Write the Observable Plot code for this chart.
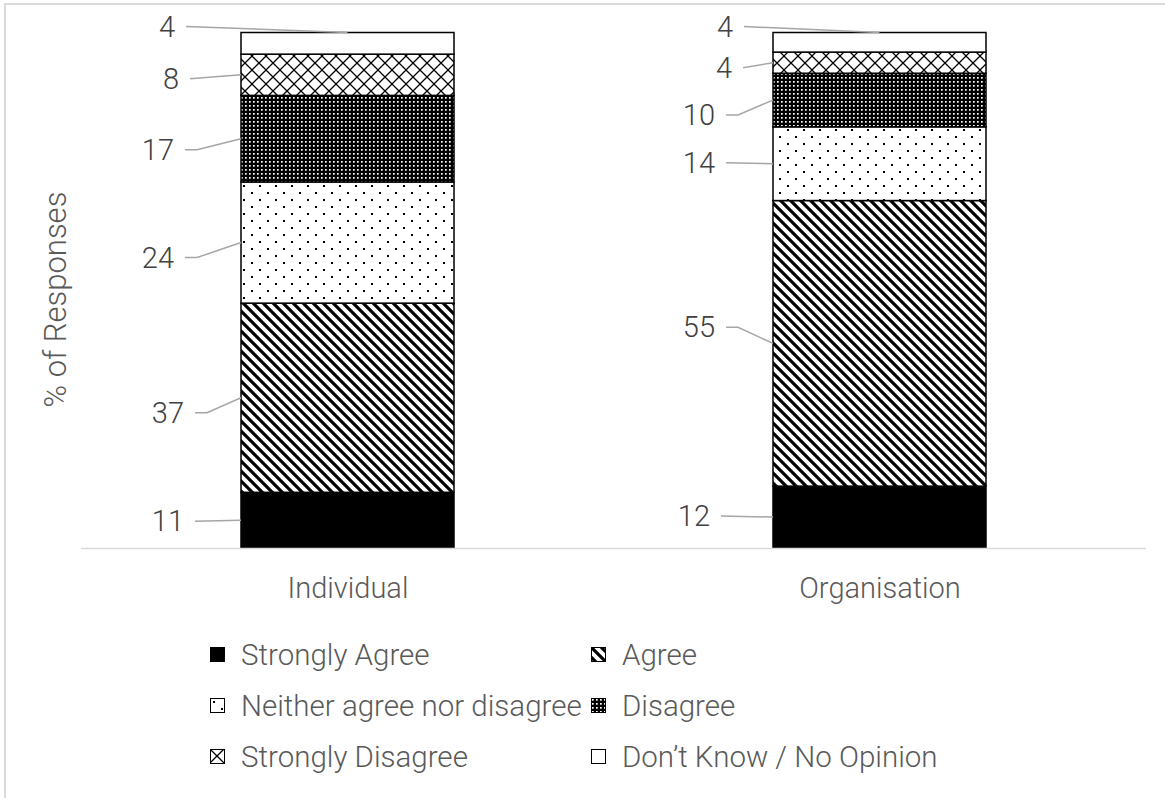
<!DOCTYPE html>
<html><head><meta charset="utf-8">
<script src="https://cdn.jsdelivr.net/npm/d3@7"></script>
<script src="https://cdn.jsdelivr.net/npm/@observablehq/plot@0.6"></script>
<style>
html,body{margin:0;padding:0;background:#fff;width:1165px;height:798px;overflow:hidden;}
body{position:relative;font-family:Roboto,"Liberation Sans",sans-serif;font-weight:300;}
#frame{position:absolute;left:4px;top:3px;width:1200px;height:900px;border:2px solid #d9d9d9;box-sizing:border-box;}
#chart{position:absolute;left:0;top:0;}
#legend{position:absolute;left:210px;top:629px;display:grid;grid-template-columns:381px auto;grid-auto-rows:51px;color:#595959;font-size:29.5px;}
.item{display:flex;align-items:center;white-space:nowrap;}
.item svg{margin-right:16px;flex:none;}
</style></head><body>
<div id="frame"></div>
<div id="chart"></div>
<div id="legend"></div>
<script>
// ---- data ----
const groups = ["Individual", "Organisation"];
const categories = ["Strongly Agree", "Agree", "Neither agree nor disagree", "Disagree", "Strongly Disagree", "Don’t Know / No Opinion"];
const individualValues = [10.8, 36.7, 23.5, 16.8, 8.0, 4.2];
const organisationValues = [12.0, 55.4, 14.3, 10.4, 4.1, 3.8];
const yTitle = "% of Responses";

// ---- layout of hand-placed data labels (px): [label right edge from bar left edge, offset from segment middle] ----
const labelLayout = {
  Individual: [[-57, 1], [-57, 15], [-67, 15], [-67, 11], [-62, 4], [-66, -6]],
  Organisation: [[-63, -1], [-58, -16], [-58, -1], [-58, 15], [-41, 5], [-40, -6]]
};

const seriesByGroup = {Individual: individualValues, Organisation: organisationValues};
const table = groups.flatMap(g => categories.map((c, i) => ({group: g, category: c, value: seriesByGroup[g][i]})));

const fills = ["#000", "url(#pAgree)", "url(#pNeither)", "url(#pDisagree)", "url(#pSD)", "#fff"];
const FONT = 'Roboto, "Liberation Sans", sans-serif';

const chart = Plot.plot({
  width: 1165, height: 620,
  marginLeft: 81, marginRight: 19, marginTop: 32.5, marginBottom: 72,
  style: {color: "#595959", fontFamily: FONT, fontWeight: 300, background: "transparent", overflow: "visible"},
  x: {domain: groups, paddingInner: 0.6, paddingOuter: 0.3, label: null},
  y: {domain: [0, 100], axis: null},
  color: {domain: categories, range: fills},
  marks: [
    Plot.barY(table, {x: "group", y: "value", fill: "category", stroke: "#000", strokeWidth: 1.5}),
    Plot.ruleY([0], {stroke: "#d9d9d9", strokeWidth: 1.5}),
    Plot.axisX({tickSize: 0, tickPadding: 29, fontSize: 29, label: null}),
    Plot.text([yTitle], {frameAnchor: "left", textAnchor: "middle", rotate: -90, dx: -25, dy: 9, fontSize: 31, fill: "#595959"})
  ]
});

// patterns
const defs = d3.select(chart).insert("defs", ":first-child");
function pat(id, w, h) {
  return defs.append("pattern").attr("id", id).attr("patternUnits", "userSpaceOnUse").attr("width", w).attr("height", h);
}
{
  const p = pat("pAgree", 10, 10);
  p.append("rect").attr("width", 10).attr("height", 10).attr("fill", "#fff");
  p.append("path").attr("d", "M-2,-2L12,12M-7,3L7,17M3,-7L17,7").attr("stroke", "#000").attr("stroke-width", 3.2);
}
{
  const p = pat("pNeither", 16, 14);
  p.append("rect").attr("width", 16).attr("height", 14).attr("fill", "#fff");
  p.append("rect").attr("x", 3).attr("y", 3).attr("width", 2).attr("height", 2).attr("fill", "#000");
  p.append("rect").attr("x", 11).attr("y", 10).attr("width", 2).attr("height", 2).attr("fill", "#000");
}
{
  const p = pat("pDisagree", 4, 4);
  p.append("rect").attr("width", 4).attr("height", 4).attr("fill", "#000");
  p.append("rect").attr("x", 1).attr("y", 1).attr("width", 1.7).attr("height", 1.7).attr("fill", "#fff");
}
{
  const p = pat("pSD", 14, 14);
  p.append("rect").attr("width", 14).attr("height", 14).attr("fill", "#fff");
  p.append("path").attr("d", "M-1,-1L15,15M15,-1L-1,15").attr("stroke", "#000").attr("stroke-width", 1.3);
}

// data labels with leader lines, positioned through Plot's scales
const xs = chart.scale("x"), ys = chart.scale("y");
const lg = d3.select(chart).append("g");
groups.forEach(grp => {
  const vals = seriesByGroup[grp];
  const ends = Array.from(d3.cumsum(vals));
  const left = xs.apply(grp), bw = xs.bandwidth;
  vals.forEach((v, ci) => {
    const [dx, dy] = labelLayout[grp][ci];
    const isTop = ci === vals.length - 1;
    const ax = isTop ? left + bw / 2 : left;
    const ay = isTop ? ys.apply(ends[ci]) : ys.apply(ends[ci] - v / 2);
    const ly = ay + dy;
    const rx = left + dx;
    const pts = [[rx + 11, ly]];
    if (!isTop && Math.abs(dy) > 8) pts.push([rx + 23, ly]);
    pts.push([ax, ay]);
    lg.append("path").attr("d", d3.line()(pts)).attr("fill", "none").attr("stroke", "#a6a6a6").attr("stroke-width", 1.5);
    lg.append("text").attr("x", rx).attr("y", ly + 10).attr("text-anchor", "end")
      .attr("font-size", 29).attr("fill", "#404040").attr("font-family", FONT).attr("font-weight", 300)
      .text(d3.format(".0f")(v));
  });
});

document.getElementById("chart").append(chart);

// legend
const legend = d3.select("#legend");
categories.forEach((c, i) => {
  const it = legend.append("div").attr("class", "item");
  const s = it.append("svg").attr("width", 15).attr("height", 15);
  s.append("rect").attr("x", 0.5).attr("y", 0.5).attr("width", 14).attr("height", 14).attr("fill", fills[i]).attr("stroke", "#000").attr("stroke-width", 1);
  it.append("span").text(c);
});
</script></body></html>
